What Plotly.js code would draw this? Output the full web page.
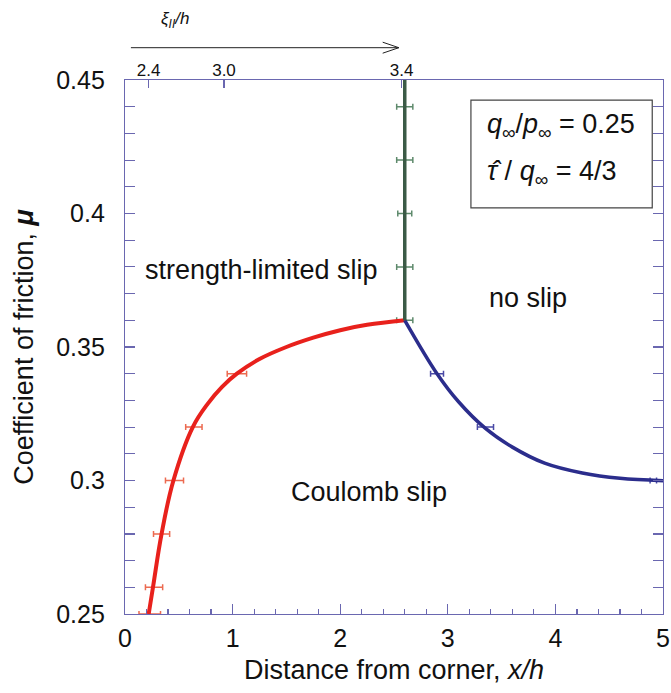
<!DOCTYPE html>
<html>
<head>
<meta charset="utf-8">
<script src="https://cdn.plot.ly/plotly-3.0.1.min.js"></script>
<style>html,body{margin:0;padding:0;background:#fff;}#chart{width:671px;height:693px;}</style>
</head>
<body>
<div id="chart"></div>
<script>
// Coulomb slip / strength-limited boundary (red)
const redX = [0.22, 0.26, 0.34, 0.45, 0.63, 0.77, 0.9, 1.04, 1.25, 1.5, 1.75, 2.0, 2.25, 2.6];
const redY = [0.25, 0.26, 0.28, 0.30, 0.32, 0.3288, 0.3350, 0.340, 0.3455, 0.350, 0.3535, 0.3563, 0.3583, 0.36];
const redErrX = [0.23, 0.27, 0.34, 0.46, 0.64, 1.04];
const redErrY = [0.25, 0.26, 0.28, 0.30, 0.32, 0.34];
const redErrW = [0.10, 0.08, 0.075, 0.084, 0.076, 0.09];

// strength-limited / no slip boundary (green)
const greenX = [2.6, 2.6];
const greenY = [0.36, 0.45];
const greenErrX = [2.6, 2.6, 2.6, 2.6, 2.6];
const greenErrY = [0.44, 0.42, 0.40, 0.38, 0.36];
const greenErrW = [0.075, 0.075, 0.065, 0.075, 0.075];

// Coulomb slip / no slip boundary (blue)
const blueX = [2.6, 2.9, 3.1, 3.35, 3.6, 3.9, 4.25, 4.6, 5.0];
const blueY = [0.36, 0.340, 0.3295, 0.3195, 0.3125, 0.3065, 0.3028, 0.3008, 0.2999];
const blueErrX = [2.90, 3.35, 4.91];
const blueErrY = [0.34, 0.32, 0.30];
const blueErrW = [0.06, 0.075, 0.03];

// top axis (xi_II / h)
const topTickPos = [0.22, 0.92, 2.57];
const topTickText = ['2.4', '3.0', '3.4'];

const axisColor = '#6a67b0';
const font = 'Liberation Sans, Arial, sans-serif';

const traces = [
  {x: redErrX, y: redErrY, mode: 'markers', type: 'scatter', marker: {size: 0.1, color: 'rgba(0,0,0,0)'},
   error_x: {type: 'data', array: redErrW, color: '#ec6a50', thickness: 1.5, width: 3}, hoverinfo: 'skip'},
  {x: greenErrX, y: greenErrY, mode: 'markers', type: 'scatter', marker: {size: 0.1, color: 'rgba(0,0,0,0)'},
   error_x: {type: 'data', array: greenErrW, color: '#5e8a6c', thickness: 1.5, width: 3}, hoverinfo: 'skip'},
  {x: blueErrX, y: blueErrY, mode: 'markers', type: 'scatter', marker: {size: 0.1, color: 'rgba(0,0,0,0)'},
   error_x: {type: 'data', array: blueErrW, color: '#4a4aa6', thickness: 1.5, width: 3}, hoverinfo: 'skip'},
  {x: redX, y: redY, mode: 'lines', type: 'scatter', line: {color: '#e8211c', width: 4, shape: 'spline', smoothing: 1.1}},
  {x: blueX, y: blueY, mode: 'lines', type: 'scatter', line: {color: '#2b2d8c', width: 3.5, shape: 'spline', smoothing: 1}},
  {x: greenX, y: greenY, mode: 'lines', type: 'scatter', line: {color: '#3b5a46', width: 3.5}},
  {x: topTickPos, y: [0.45, 0.45, 0.45], xaxis: 'x2', mode: 'markers', type: 'scatter', marker: {size: 0.1, color: 'rgba(0,0,0,0)'}, hoverinfo: 'skip'}
];

const layout = {
  width: 671, height: 693,
  margin: {l: 125, r: 8, t: 80, b: 79},
  paper_bgcolor: '#fff', plot_bgcolor: '#fff',
  showlegend: false,
  font: {family: font, color: '#111', size: 18},
  xaxis: {
    range: [0, 5], tickvals: [0, 1, 2, 3, 4, 5], ticks: 'inside', ticklen: 10, tickwidth: 1.2, tickcolor: axisColor,
    showline: true, linecolor: axisColor, linewidth: 1.2, mirror: true, showgrid: false, zeroline: false,
    minor: {dtick: 0.2, ticks: 'inside', ticklen: 5, tickcolor: axisColor, tickwidth: 1.2, showgrid: false},
    tickfont: {size: 25, family: font, color: '#111'}, ticklabelstandoff: 2,
    title: {text: 'Distance from corner, <i>x/h</i>', font: {size: 27, family: font, color: '#111'}, standoff: 8}
  },
  xaxis2: {
    overlaying: 'x', side: 'top', range: [0, 5], tickvals: topTickPos, ticktext: topTickText,
    ticks: 'inside', ticklen: 8, tickwidth: 1.2, tickcolor: axisColor, showline: false, showgrid: false, zeroline: false,
    tickfont: {size: 17, family: font, color: '#111'}, ticklabelstandoff: 0
  },
  yaxis: {
    range: [0.25, 0.45], tickvals: [0.25, 0.3, 0.35, 0.4, 0.45], ticktext: ['0.25', '0.3', '0.35', '0.4', '0.45'],
    ticks: 'inside', ticklen: 10, tickwidth: 1.2, tickcolor: axisColor,
    showline: true, linecolor: axisColor, linewidth: 1.2, mirror: 'allticks', showgrid: false, zeroline: false,
    minor: {dtick: 0.01, ticks: 'inside', ticklen: 5, tickcolor: axisColor, tickwidth: 1.2, showgrid: false},
    tickfont: {size: 25, family: font, color: '#111'}, ticklabelstandoff: 14,
    title: {text: 'Coefficient of friction, <b><i>μ</i></b>', font: {size: 27, family: font, color: '#111'}, standoff: 14}
  },
  shapes: [
    {type: 'rect', xref: 'x', yref: 'y', x0: 3.215, x1: 4.9, y0: 0.4021, y1: 0.4425, line: {color: '#444', width: 1.2}, fillcolor: 'rgba(0,0,0,0)'},
    {type: 'line', xref: 'paper', yref: 'paper', x0: 0.011, x1: 0.509, y0: 1.0605, y1: 1.0605, line: {color: '#222', width: 1}},
    {type: 'path', xref: 'paper', yref: 'paper', path: 'M 0.479 1.0708 L 0.509 1.0605 L 0.479 1.0502', line: {color: '#222', width: 1}}
  ],
  annotations: [
    {xref: 'x', yref: 'y', x: 1.273, y: 0.3788, text: 'strength-limited slip', showarrow: false, font: {size: 27, family: font, color: '#111'}},
    {xref: 'x', yref: 'y', x: 3.745, y: 0.3684, text: 'no slip', showarrow: false, font: {size: 27, family: font, color: '#111'}},
    {xref: 'x', yref: 'y', x: 2.267, y: 0.2957, text: 'Coulomb slip', showarrow: false, font: {size: 27, family: font, color: '#111'}},
    {xref: 'x', yref: 'y', x: 3.346, xanchor: 'left', y: 0.4328, text: '<i>q</i><sub>∞</sub>/<i>p</i><sub>∞</sub> = 0.25', showarrow: false, font: {size: 27, family: font, color: '#111'}},
    {xref: 'x', yref: 'y', x: 3.346, xanchor: 'left', y: 0.4152, text: '<i>τ̂</i> / <i>q</i><sub>∞</sub> = 4/3', showarrow: false, font: {size: 27, family: font, color: '#111'}},
    {xref: 'paper', yref: 'paper', x: 0.093, y: 1.112, xanchor: 'center', yanchor: 'middle', text: '<i>ξ<sub>II</sub>/h</i>', showarrow: false, font: {size: 17, family: font, color: '#111'}}
  ]
};

Plotly.newPlot('chart', traces, layout, {displayModeBar: false, staticPlot: true});
</script>
</body>
</html>
